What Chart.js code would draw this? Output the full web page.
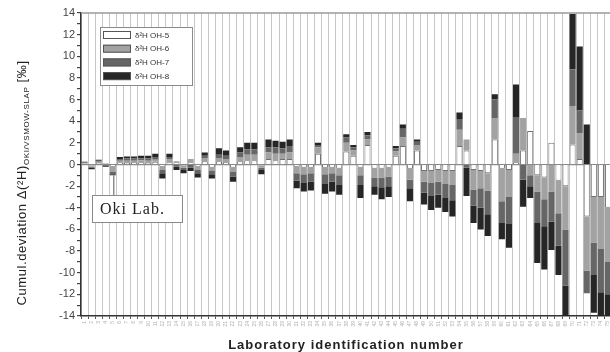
<!DOCTYPE html>
<html>
<head>
<meta charset="utf-8">
<script src="https://cdn.jsdelivr.net/npm/chart.js@4"></script>
<style>
  html, body { margin: 0; padding: 0; background: #fff; overflow: hidden; }
  #wrap { width: 616px; height: 352px; }
</style>
</head>
<body>
<div id="wrap"><canvas id="c" width="616" height="352"></canvas></div>
<script>
// lab ids on the x axis
const labIds = ['1','2','3','4','5','6','7','8','9','10','11','12','13','14','15',
  '16','17','18','19','20','21','22','23','24','25','26','27','28','29','30',
  '31','32','33','34','35','36','37','38','39','40','41','42','43','44','45',
  '46','47','48','49','50','51','52','53','54','55','56','57','58','59','60',
  '61','62','63','64','65','66','67','68','69','70','71','72','73','74','75'];

const seriesNames = ['δ²H OH-5', 'δ²H OH-6', 'δ²H OH-7', 'δ²H OH-8'];

// deviations per lab (‰), stacked = cumulative
const oh5 = [0.1,-0.1,0.15,0.05,-0.2,0.2,0.15,0.2,0.2,0.15,
  0.25,-0.2,0.2,0.2,-0.1,0.2,-0.2,0.3,-0.3,0.3,
  0.2,-0.3,0.3,0.4,0.4,-0.1,0.5,0.4,0.5,0.5,
  -0.2,-0.3,-0.3,1.0,-0.3,-0.3,-0.4,1.2,0.8,-0.3,
  1.8,-0.4,-0.4,-0.3,0.8,1.7,-0.4,1.3,-0.6,-0.6,
  -0.5,-0.6,-0.6,1.7,1.3,-0.5,-0.6,-0.8,2.3,-0.4,
  -0.5,0.2,1.3,3.1,-1.0,-1.2,2.0,-1.5,-2.0,1.85,
  0.5,-4.8,-3.0,-3.0,-4.0];
const oh6 = [0.05,-0.1,0.1,0.05,-0.5,0.15,0.2,0.15,0.2,0.2,
  0.2,-0.3,0.3,0.1,-0.2,0.3,-0.3,0.3,-0.3,0.3,
  0.3,-0.4,0.4,0.5,0.5,-0.2,0.6,0.6,0.5,0.6,
  -0.6,-0.6,-0.5,0.6,-0.6,-0.5,-0.6,0.8,0.5,-0.7,
  0.5,-0.8,-0.8,-0.8,0.4,0.8,-1.0,0.5,-1.0,-1.1,
  -1.1,-1.2,-1.3,1.5,1.0,-1.8,-1.6,-1.6,2.0,-3.0,
  -2.5,0.8,3.0,-1.0,-1.5,-2.0,-2.5,-3.0,-4.0,3.55,
  2.4,-5.0,-4.2,-4.8,-5.0];
const oh7 = [0.05,-0.1,0.1,-0.1,-0.2,0.15,0.2,0.2,0.15,0.2,
  0.25,-0.3,0.2,-0.2,-0.2,-0.3,-0.3,0.2,-0.3,0.3,
  0.3,-0.4,0.4,0.5,0.5,-0.2,0.5,0.6,0.5,0.6,
  -0.7,-0.8,-0.8,0.2,-0.9,-0.8,-0.9,0.5,0.3,-0.9,
  0.4,-0.8,-0.9,-0.9,0.3,0.8,-0.8,0.3,-1.0,-1.2,
  -1.2,-1.3,-1.4,1.0,-0.3,-1.5,-1.8,-2.2,1.7,-2.0,
  -2.5,3.4,-1.4,-1.0,-2.9,-2.5,-2.8,-3.0,-5.2,3.4,
  2.1,-2.1,-3.0,-4.0,-3.0];
const oh8 = [0.05,-0.15,0.1,-0.1,-0.1,0.2,0.2,0.2,0.25,0.25,
  0.3,-0.5,0.3,-0.3,-0.3,-0.3,-0.4,0.3,-0.4,0.6,
  0.5,-0.5,0.5,0.6,0.6,-0.4,0.7,0.6,0.6,0.6,
  -0.7,-0.8,-0.8,0.2,-0.9,-0.9,-0.9,0.3,0.2,-1.2,
  0.3,-0.8,-1.1,-1.0,0.2,0.4,-1.2,0.2,-1.1,-1.3,
  -1.2,-1.3,-1.5,0.6,-2.6,-1.6,-2.0,-2.0,0.5,-1.5,
  -2.2,3.0,-2.5,-1.1,-3.7,-4.0,-2.6,-2.7,-2.8,5.1,
  5.9,3.7,-3.5,-2.2,-2.0];

const okiIndex = 4;
const yMin = -14, yMax = 14;

const fills = ['#ffffff', '#a2a2a2', '#666666', '#262626'];
const series = [oh5, oh6, oh7, oh8];

const decor = {
  id: 'decor',
  beforeDraw(chart) {
    const ctx = chart.ctx;
    ctx.save();
    ctx.fillStyle = '#fff';
    ctx.fillRect(0, 0, chart.width, chart.height);
    ctx.restore();
  },
  afterDraw(chart) {
    const {ctx, chartArea: a, scales: {x, y}} = chart;
    ctx.save();

    // top frame line
    ctx.strokeStyle = '#9a9a9a';
    ctx.lineWidth = 1.5;
    ctx.beginPath();
    ctx.moveTo(a.left, a.top);
    ctx.lineTo(a.right, a.top);
    ctx.stroke();

    // legend
    const lx = 100, ly = 27, lw = 92, lh = 58;
    ctx.fillStyle = '#fff';
    ctx.fillRect(lx, ly, lw, lh);
    ctx.strokeStyle = '#8a8a8a';
    ctx.lineWidth = 1;
    ctx.strokeRect(lx + 0.5, ly + 0.5, lw, lh);
    ctx.font = '8px Arial, "Liberation Sans", sans-serif';
    ctx.textBaseline = 'middle';
    seriesNames.forEach((name, i) => {
      const cy = ly + 8 + i * 13.7;
      ctx.fillStyle = fills[i];
      ctx.fillRect(lx + 3, cy - 4, 28, 8);
      ctx.strokeStyle = '#555';
      ctx.strokeRect(lx + 3.5, cy - 3.5, 27, 7);
      ctx.fillStyle = '#333';
      ctx.fillText(name, lx + 35, cy + 0.5);
    });

    // Oki Lab. pointer and box
    const px = x.getPixelForValue(okiIndex) + 1;
    const bottom = oh5[okiIndex] + oh6[okiIndex] + oh7[okiIndex] + oh8[okiIndex];
    ctx.strokeStyle = '#555';
    ctx.lineWidth = 1;
    ctx.beginPath();
    ctx.moveTo(px, y.getPixelForValue(bottom));
    ctx.lineTo(px, 195);
    ctx.stroke();
    ctx.fillStyle = '#fff';
    ctx.fillRect(92, 195, 90, 27);
    ctx.strokeStyle = '#8a8a8a';
    ctx.strokeRect(92.5, 195.5, 90, 27);
    ctx.fillStyle = '#222';
    ctx.font = '16px "Liberation Serif", "DejaVu Serif", serif';
    ctx.letterSpacing = '1px';
    ctx.textBaseline = 'middle';
    ctx.fillText('Oki Lab.', 100, 209.5);

    // x title
    ctx.font = 'bold 13px Arial, "Liberation Sans", sans-serif';
    ctx.letterSpacing = '1px';
    ctx.textAlign = 'center';
    ctx.textBaseline = 'middle';
    ctx.fillStyle = '#222';
    ctx.fillText('Laboratory identification number', 346, 345);

    // y title with subscript
    ctx.translate(22, 183);
    ctx.rotate(-Math.PI / 2);
    ctx.textAlign = 'left';
    ctx.letterSpacing = '0.6px';
    const mainFont = '13px Arial, "Liberation Sans", sans-serif';
    const subFont = '8px Arial, "Liberation Sans", sans-serif';
    const p1 = 'Cumul.deviation Δ(²H)', p2 = 'OKI/VSMOW-SLAP', p3 = ' [‰]';
    ctx.font = mainFont; const w1 = ctx.measureText(p1).width, w3 = ctx.measureText(p3).width;
    ctx.font = subFont; const w2 = ctx.measureText(p2).width;
    let tx = -(w1 + w2 + w3) / 2;
    ctx.font = mainFont; ctx.fillText(p1, tx, 0); tx += w1;
    ctx.font = subFont; ctx.fillText(p2, tx, 5); tx += w2;
    ctx.font = mainFont; ctx.fillText(p3, tx, 0);

    ctx.restore();
  }
};

new Chart(document.getElementById('c'), {
  type: 'bar',
  data: {
    labels: labIds,
    datasets: series.map((d, i) => ({
      label: seriesNames[i],
      data: d,
      backgroundColor: fills[i],
      borderColor: i === 0 ? '#707070' : fills[i],
      borderWidth: i === 0 ? 1 : 0,
      barPercentage: 0.86,
      categoryPercentage: 1.0
    }))
  },
  options: {
    responsive: false,
    animation: false,
    events: [],
    layout: {padding: {left: 0, right: 1, top: 13, bottom: 0}},
    plugins: {legend: {display: false}, tooltip: {enabled: false}},
    scales: {
      x: {
        stacked: true,
        afterFit(s) { s.height = 36; },
        grid: {color: '#c6c6c6', lineWidth: 1, offset: true, tickLength: 3, tickColor: '#555'},
        border: {color: '#333', width: 1.5},
        ticks: {
          autoSkip: false, minRotation: 90, maxRotation: 90, padding: 2,
          color: '#b0b0b0', font: {size: 5, family: 'Arial'}
        }
      },
      y: {
        stacked: true,
        min: yMin, max: yMax,
        afterFit(s) { s.width = 81; },
        grid: {
          color: c => (c.tick && c.tick.value === 0) ? '#8a8a8a' : 'rgba(0,0,0,0)',
          lineWidth: 1.2, tickLength: 4, tickColor: '#444'
        },
        border: {color: '#333', width: 1.5},
        ticks: {
          stepSize: 1, autoSkip: false, padding: 2,
          color: '#444', font: {size: 11, family: 'Arial'},
          callback: v => (v % 2 === 0 ? String(v) : '')
        }
      }
    }
  },
  plugins: [decor]
});
</script>
</body>
</html>
